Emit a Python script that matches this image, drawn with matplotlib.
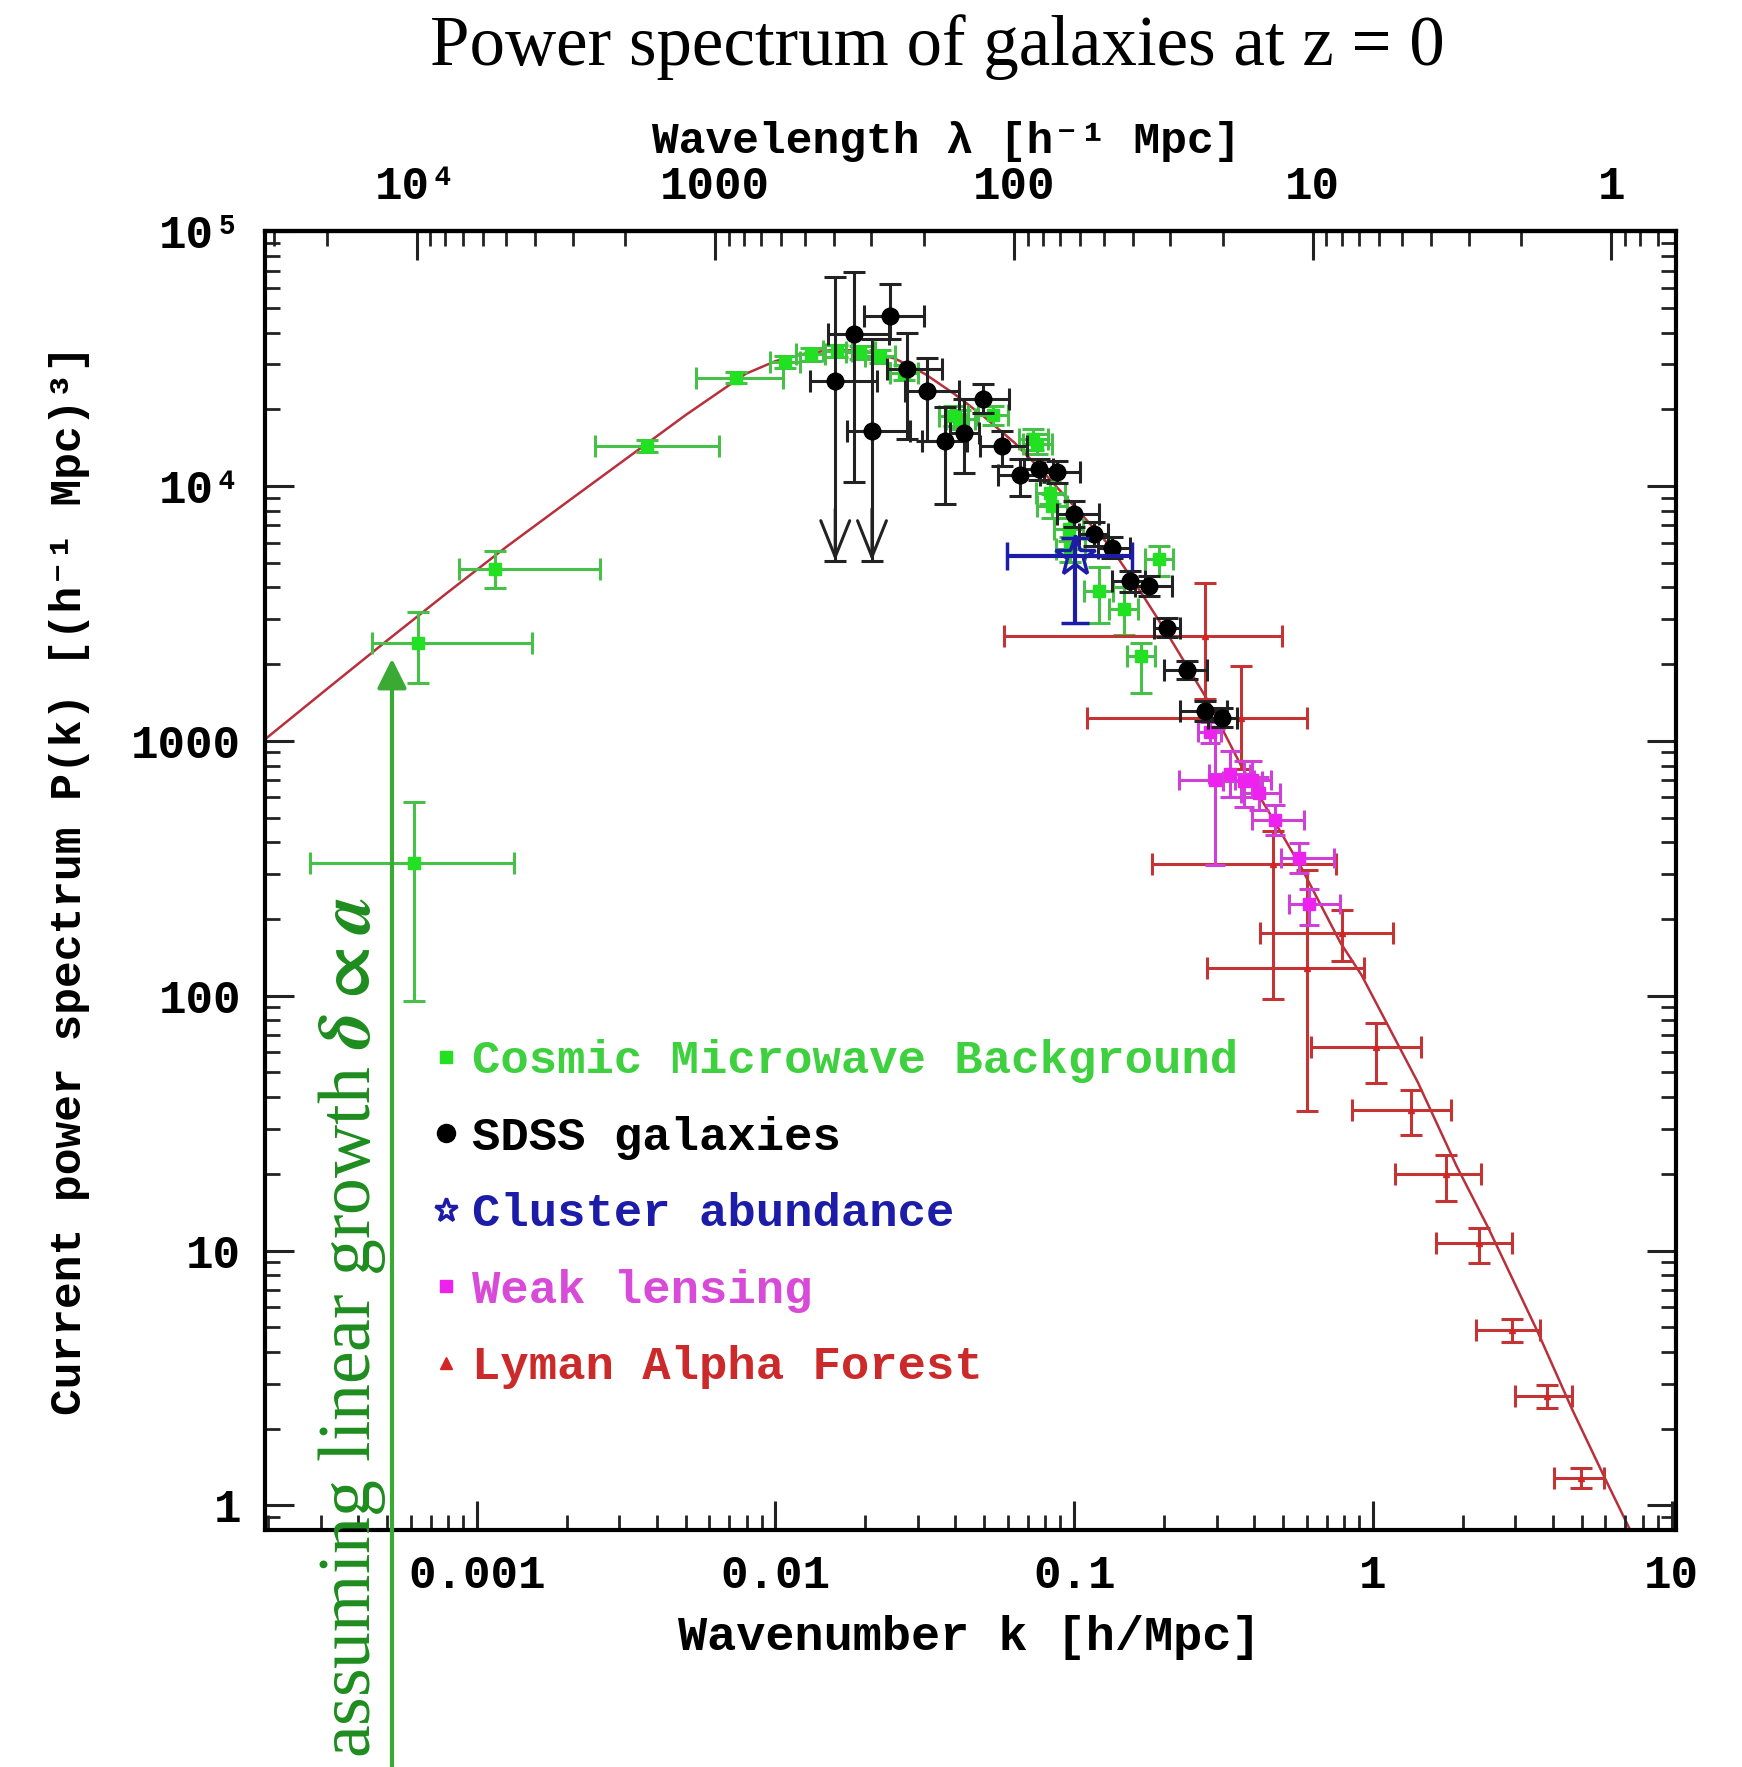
import numpy as np
import matplotlib
matplotlib.use("Agg")
import matplotlib.pyplot as plt
from matplotlib.lines import Line2D
from matplotlib.ticker import LogLocator, NullFormatter

plt.rcParams['font.family'] = ['Liberation Mono', 'DejaVu Sans Mono']
plt.rcParams['font.weight'] = 'bold'
plt.rcParams['mathtext.fontset'] = 'stix'

# --- linear theory curve, P(k) in (h^-1 Mpc)^3 ---
curve_k = [1.954e-4, 3.162e-4, 5.012e-4, 7.943e-4, 1.259e-3, 1.995e-3, 3.162e-3,
           5.012e-3, 7.943e-3, 0.01, 0.01259, 0.01585, 0.01995, 0.02512, 0.03162,
           0.03981, 0.05012, 0.06310, 0.07943, 0.1, 0.1318, 0.1622, 0.2042, 0.2786,
           0.3631, 0.4645, 0.5728, 0.7798, 0.9162, 1.416, 1.905, 2.432, 3.556,
           4.656, 5.943, 7.278]
curve_p = [1014, 1603, 2477, 3802, 5781, 8610, 12790, 19010, 27540, 30900,
           33110, 34280, 33880, 31620, 27540, 22910, 18620, 14790, 11220, 8318,
           5808, 4046, 2655, 1455, 794, 491, 322, 161, 120.5, 45.6, 21.5, 12.3,
           4.82, 2.37, 1.30, 0.798]

# --- Cosmic Microwave Background ---
cmb_k = [6.14e-4, 6.35e-4, 1.15e-3, 3.71e-3, 7.38e-3,
         0.0108, 0.0131, 0.0161, 0.0192, 0.0224, 0.0269, 0.0395, 0.0416, 0.0536,
         0.0730, 0.0752, 0.0832, 0.0843, 0.0959, 0.0971, 0.121, 0.147, 0.167, 0.192]
cmb_k_lo = [2.77e-4, 4.46e-4, 8.69e-4, 2.49e-3, 5.40e-3,
            0.0096, 0.0117, 0.0144, 0.0172, 0.0200, 0.0241, 0.0352, 0.0372, 0.0478,
            0.0652, 0.0672, 0.0745, 0.0752, 0.0858, 0.0866, 0.108, 0.131, 0.150, 0.172]
cmb_k_hi = [1.33e-3, 1.53e-3, 2.59e-3, 6.45e-3, 0.0106,
            0.0121, 0.0147, 0.0180, 0.0215, 0.0251, 0.0301, 0.0442, 0.0465, 0.0600,
            0.0817, 0.0841, 0.0930, 0.0944, 0.1073, 0.1086, 0.135, 0.164, 0.186, 0.214]
cmb_p = [333, 2420, 4725, 14390, 26600,
         30690, 32890, 33810, 33500, 32280, 27860, 18840, 18280, 18920,
         15240, 14590, 9419, 8356, 6761, 5636, 3873, 3281, 2153, 5152]
cmb_p_lo = [95, 1680, 3965, 13600, 25300,
            29000, 31000, 32000, 31600, 30400, 26000, 17200, 16800, 17300,
            13900, 13300, 8500, 7500, 6100, 5050, 2910, 2600, 1545, 4440]
cmb_p_hi = [575, 3215, 5550, 15200, 28000,
            32400, 34800, 35700, 35400, 34200, 29800, 20600, 19900, 20600,
            16700, 16000, 10400, 9300, 7500, 6300, 4790, 4000, 2425, 5810]

# --- SDSS galaxies ---
sdss_k = [0.01585, 0.01827, 0.02423, 0.02104, 0.02755, 0.03215, 0.03707, 0.04266,
          0.04955, 0.05737, 0.06605, 0.07604, 0.08765, 0.09959, 0.1161, 0.1339,
          0.1542, 0.1777, 0.2048, 0.2387, 0.2750, 0.3126]
sdss_k_lo = [0.0130, 0.01496, 0.01972, 0.01735, 0.0236, 0.02721, 0.03096, 0.0385,
             0.04103, 0.0485, 0.0558, 0.0680, 0.0790, 0.0877, 0.1040, 0.1200,
             0.1339, 0.1600, 0.1850, 0.1995, 0.2270, 0.2800]
sdss_k_hi = [0.0218, 0.02392, 0.03133, 0.02813, 0.03612, 0.04103, 0.04378, 0.0480,
             0.06034, 0.0695, 0.0771, 0.0850, 0.1050, 0.1208, 0.1300, 0.1542,
             0.1720, 0.2128, 0.2270, 0.2786, 0.3250, 0.3500]
sdss_p = [25840, 39400, 46240, 16440, 28900, 23600, 15020, 16200, 22030, 14360,
          11010, 11640, 11350, 7742, 6460, 5727, 4237, 4048, 2780, 1896, 1309, 1233]
sdss_p_lo = [5080, 10370, 37650, 5080, 15230, 15020, 8480, 11290, 19420, 11990,
             9140, 10600, 10300, 6900, 5800, 5200, 3850, 3700, 2550, 1750, 1200, 1130]
sdss_p_hi = [65800, 69200, 61900, 37650, 40000, 31900, 20320, 21900, 25070, 16440,
             12740, 12800, 12500, 8700, 7200, 6300, 4650, 4450, 3030, 2050, 1430, 1350]
sdss_open_low = [True, False, False, True] + [False] * 18

# --- Cluster abundance ---
clus_k, clus_k_lo, clus_k_hi = [0.1009], [0.0596], [0.1563]
clus_p, clus_p_lo, clus_p_hi = [5310], [2910], [6270]

# --- Weak lensing ---
wl_k = [0.2858, 0.2972, 0.3334, 0.3698, 0.3945, 0.4150, 0.4721, 0.5649, 0.6095]
wl_k_lo = [0.260, 0.2239, 0.2818, 0.3162, 0.3467, 0.3631, 0.3945, 0.4909, 0.5224]
wl_k_hi = [0.310, 0.3990, 0.3890, 0.4266, 0.4571, 0.4898, 0.5875, 0.7396, 0.7780]
wl_p = [1079, 704.7, 738, 695, 705, 625, 491, 347.5, 228]
wl_p_lo = [980, 327, 603, 550, 603, 537, 427, 302, 190]
wl_p_hi = [1190, 1109, 912, 832, 832, 724, 562, 398, 263]

# --- Lyman alpha forest ---
lya_k = [0.2748, 0.3606, 0.4634, 0.6026, 0.7889, 1.022, 1.340, 1.758, 2.270,
         2.924, 3.837, 4.989]
lya_k_lo = [0.0581, 0.1104, 0.1824, 0.2786, 0.4178, 0.619, 0.850, 1.186, 1.629,
            2.213, 2.992, 4.046]
lya_k_hi = [0.4966, 0.6026, 0.7499, 0.9333, 1.170, 1.452, 1.828, 2.301, 2.917,
            3.631, 4.656, 5.943]
lya_p = [2588, 1233, 328.9, 128.5, 176.6, 62.7, 35.7, 20.0, 10.67, 4.875, 2.679, 1.285]
lya_p_lo = [1455, 776, 96.6, 35.2, 136.5, 45.6, 28.5, 15.6, 8.93, 4.385, 2.410, 1.169]
lya_p_hi = [4178, 1963, 441.6, 312.6, 217.8, 78.3, 42.6, 23.7, 12.27, 5.395, 2.965, 1.400]

xtick_vals = [0.001, 0.01, 0.1, 1, 10]
xtick_labels = ['0.001', '0.01', '0.1', '1', '10']
ytick_vals = [1, 10, 100, 1000, 1e4, 1e5]
ytick_labels = ['1', '10', '100', '1000', '10⁴', '10⁵']
lam_tick_vals = [1e4, 1000, 100, 10, 1]
lam_tick_labels = ['10⁴', '1000', '100', '10', '1']

legend_labels = ['Cosmic Microwave Background', 'SDSS galaxies', 'Cluster abundance',
                 'Weak lensing', 'Lyman Alpha Forest']

# growth arrow tip
arrow_k, arrow_p = 5.2e-4, 2100

GREEN = '#22e022'
GREEN_BAR = '#46c046'
BLUE = '#1c1ca8'
MAGENTA = '#ee22ee'
RED = '#d42525'


def draw_set(ax, k, p, k_lo, k_hi, p_lo, p_hi, **kw):
    k, p = np.asarray(k), np.asarray(p)
    xerr = [k - np.asarray(k_lo), np.asarray(k_hi) - k]
    yerr = [p - np.asarray(p_lo), np.asarray(p_hi) - p]
    return ax.errorbar(k, p, xerr=xerr, yerr=yerr, linestyle='none', **kw)


fig = plt.figure(figsize=(17.42, 17.67), dpi=100)
ax = fig.add_axes([0.1521, 0.1341, 0.8100, 0.7351])
ax.set_xscale('log')
ax.set_yscale('log')
ax.set_xlim(1.953e-4, 10.35)
ax.set_ylim(0.8, 1e5)

ax.plot(curve_k, curve_p, color='#b8303c', lw=1.8, zorder=1)

draw_set(ax, cmb_k, cmb_p, cmb_k_lo, cmb_k_hi, cmb_p_lo, cmb_p_hi,
         marker='s', ms=9, mfc=GREEN, mec=GREEN, ecolor=GREEN_BAR,
         elinewidth=2.2, capsize=8, capthick=2.2, zorder=2)
draw_set(ax, lya_k, lya_p, lya_k_lo, lya_k_hi, lya_p_lo, lya_p_hi,
         marker='^', ms=5, mfc=RED, mec=RED, ecolor='#c43434',
         elinewidth=2.2, capsize=8, capthick=2.2, zorder=2)
draw_set(ax, wl_k, wl_p, wl_k_lo, wl_k_hi, wl_p_lo, wl_p_hi,
         marker='s', ms=9, mfc=MAGENTA, mec=MAGENTA, ecolor='#d040d8',
         elinewidth=2.2, capsize=7, capthick=2.2, zorder=3)
draw_set(ax, sdss_k, sdss_p, sdss_k_lo, sdss_k_hi, sdss_p_lo, sdss_p_hi,
         marker='o', ms=12, mfc='black', mec='black', ecolor='#222222',
         elinewidth=2.2, capsize=8, capthick=2.2, zorder=4)
draw_set(ax, clus_k, clus_p, clus_k_lo, clus_k_hi, clus_p_lo, clus_p_hi,
         marker='*', ms=30, mfc='none', mec=BLUE, mew=2.5, ecolor=BLUE,
         elinewidth=3, capsize=10, capthick=3, zorder=5)

# open arrowheads on the SDSS points whose errors reach down off the plot
for kk, lo, flag in zip(sdss_k, sdss_p_lo, sdss_open_low):
    if flag:
        ax.annotate('', xy=(kk, lo), xytext=(kk, lo * 1.6),
                    arrowprops=dict(arrowstyle='->,head_length=1.0,head_width=0.4',
                                    mutation_scale=26, color='#222222', lw=2.2,
                                    shrinkA=0, shrinkB=0), zorder=4)

# axes styling
for sp in ax.spines.values():
    sp.set_linewidth(3)
ax.set_xticks(xtick_vals, xtick_labels)
ax.set_yticks(ytick_vals, ytick_labels)
ax.xaxis.set_minor_locator(LogLocator(base=10, subs=np.arange(2, 10), numticks=30))
ax.yaxis.set_minor_locator(LogLocator(base=10, subs=np.arange(2, 10), numticks=30))
ax.xaxis.set_minor_formatter(NullFormatter())
ax.yaxis.set_minor_formatter(NullFormatter())
ax.tick_params(which='both', direction='in', top=False, right=True,
               labelsize=33, color='#222222')
ax.tick_params(which='major', length=21, width=2.2, pad=17)
ax.tick_params(which='minor', length=11, width=2)

secax = ax.secondary_xaxis('top', functions=(lambda k: 2 * np.pi / k,
                                             lambda lam: 2 * np.pi / lam))
secax.set_xticks(lam_tick_vals, lam_tick_labels)
secax.xaxis.set_minor_locator(LogLocator(base=10, subs=np.arange(2, 10), numticks=30))
secax.xaxis.set_minor_formatter(NullFormatter())
secax.tick_params(which='both', direction='in', labelsize=33, color='#222222')
secax.tick_params(which='major', length=21, width=2.2, pad=16)
secax.tick_params(which='minor', length=11, width=2)
secax.spines['top'].set_linewidth(3)

# axis titles
fig.text(969 / 1742, 1 - 1637 / 1767, 'Wavenumber k [h/Mpc]',
         ha='center', va='center', fontsize=35)
fig.text(946 / 1742, 1 - 141 / 1767, 'Wavelength λ [h⁻¹ Mpc]',
         ha='center', va='center', fontsize=32)
fig.text(70 / 1742, 1 - 880 / 1767, 'Current power spectrum P(k) [(h⁻¹ Mpc)³]',
         rotation=90, ha='center', va='center', fontsize=32)

fig.text(937 / 1742, 1 - 47 / 1767, 'Power spectrum of galaxies at z = 0',
         family='Liberation Serif', weight='normal', fontsize=51,
         ha='center', va='center')

# legend
handles = [
    Line2D([], [], ls='none', marker='s', ms=9, color=GREEN),
    Line2D([], [], ls='none', marker='o', ms=13, color='black'),
    Line2D([], [], ls='none', marker='*', ms=17, mfc='none', mec=BLUE, mew=2.5),
    Line2D([], [], ls='none', marker='s', ms=9, color=MAGENTA),
    Line2D([], [], ls='none', marker='^', ms=9, color=RED),
]
ax.legend(handles, legend_labels, loc='upper left', bbox_to_anchor=(0.118, 0.378),
          frameon=False, fontsize=34, handlelength=0.6, handletextpad=0.25,
          labelspacing=0.69, borderpad=0, borderaxespad=0,
          labelcolor=['#3fd03f', 'black', BLUE, '#d84ad8', '#cc2a2a'])

# linear growth note with arrow from the bottom edge
ax.annotate('', xy=(arrow_k, arrow_p), xycoords='data',
            xytext=(arrow_k, 0), textcoords=('data', 'figure fraction'),
            arrowprops=dict(arrowstyle='-|>,head_length=0.9,head_width=0.45',
                            mutation_scale=20, color='#3aaa35', lw=3,
                            shrinkA=0, shrinkB=0),
            annotation_clip=False, zorder=6)
fig.text(352 / 1742, 1 - 1758 / 1767, r'assuming linear growth $\delta \propto a$',
         family='Liberation Serif', weight='normal', fontsize=53, color='#1e8c1e',
         rotation=90, ha='center', va='bottom')

fig.savefig('out.png', dpi=100)
